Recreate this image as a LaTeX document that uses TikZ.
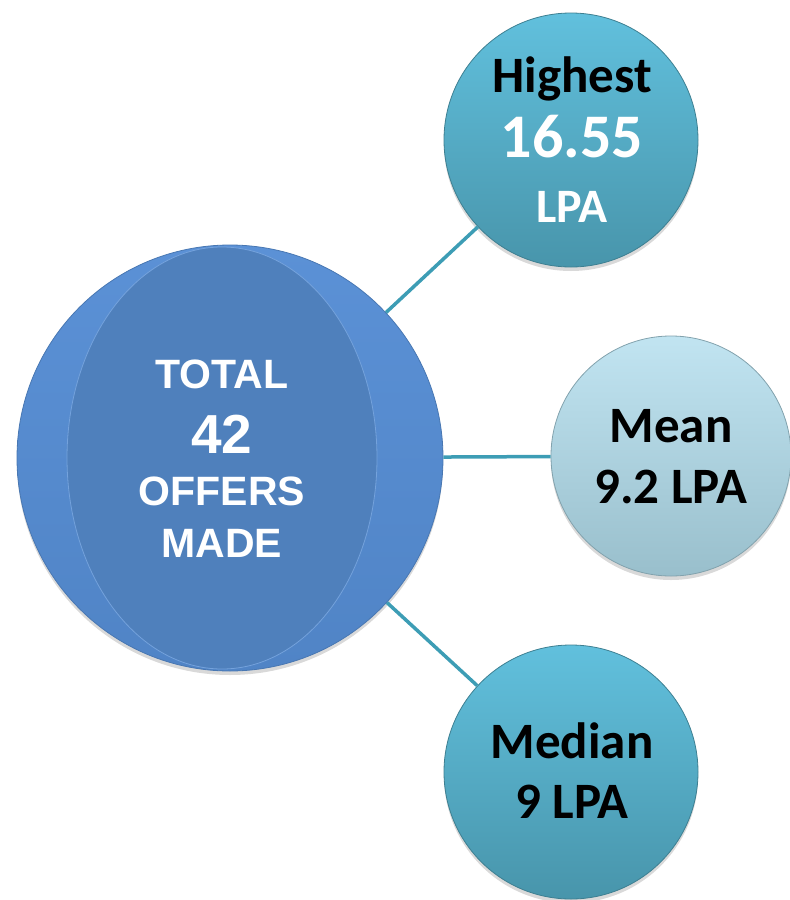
\documentclass[tikz,border=0pt]{standalone}
\usepackage{fontspec}
\setmainfont{Carlito}
\newfontfamily\arialfont{Liberation Sans}
\usepackage{xcolor}
\usetikzlibrary{shadows}

\definecolor{ringtop}{HTML}{5B91D6}
\definecolor{ringbot}{HTML}{5084C6}
\definecolor{coreblue}{HTML}{4F80BC}
\definecolor{tealtop}{HTML}{61C0DD}
\definecolor{tealbot}{HTML}{4895AB}
\definecolor{paletop}{HTML}{C1E4F1}
\definecolor{palebot}{HTML}{99BFCC}
\definecolor{linkteal}{HTML}{3D9DB5}

\tikzset{
  bubble/.style={circle, inner sep=0pt, draw=#1, line width=0.8pt,
    drop shadow={opacity=0.3, shadow xshift=0pt, shadow yshift=-4pt}},
  link/.style={linkteal, line width=3.5pt},
  darklabel/.style={anchor=base, font=\bfseries\fontsize{51}{61}\selectfont, text=black},
  whitelabel/.style={anchor=base, font=\bfseries\fontsize{50}{60}\selectfont, text=white},
  totallabel/.style={anchor=base, font=\arialfont\bfseries\fontsize{41}{50}\selectfont, text=white}
}

\begin{document}
\begin{tikzpicture}[x=1pt, y=-1pt]
  \useasboundingbox (0,0) rectangle (790,900);

  % bubbles
  \node[bubble=ringbot!90!black, minimum size=426pt, top color=ringtop, bottom color=ringbot] (total) at (230,458) {};
  \fill[coreblue, draw=ringtop!85!white, line width=0.8pt] (222,458) ellipse [x radius=155, y radius=211];
  \node[bubble=tealbot!85!black, minimum size=254pt, top color=tealtop, bottom color=tealbot] (high) at (571,140) {};
  \node[bubble=palebot!85!black, minimum size=240pt, top color=paletop, bottom color=palebot] (mean) at (671,456) {};
  \node[bubble=tealbot!85!black, minimum size=254pt, top color=tealtop, bottom color=tealbot] (median) at (571,772) {};

  % connectors
  \draw[link] (total) -- (high);
  \draw[link] (total) -- (mean);
  \draw[link] (total) -- (median);

  % labels
  \node[totallabel] (tTotal) at (222,388) {TOTAL};
  \node[totallabel, font=\arialfont\bfseries\fontsize{55}{60}\selectfont] (tCount) at (222,453) {42};
  \node[totallabel] (tOffers) at (222,505) {OFFERS};
  \node[totallabel] (tMade) at (222,557) {MADE};

  \node[darklabel] (hTitle) at (572,92) {Highest};
  \node[whitelabel, font=\bfseries\fontsize{62}{70}\selectfont] (hValue) at (572,157) {16.55};
  \node[whitelabel, font=\bfseries\fontsize{48}{58}\selectfont] (hUnit) at (572,222) {LPA};

  \node[darklabel] (mTitle) at (671,442) {Mean};
  \node[darklabel] (mValue) at (671,503) {9.2 LPA};

  \node[darklabel] (dTitle) at (572,758) {Median};
  \node[darklabel] (dValue) at (572,818) {9 LPA};
\end{tikzpicture}
\end{document}
